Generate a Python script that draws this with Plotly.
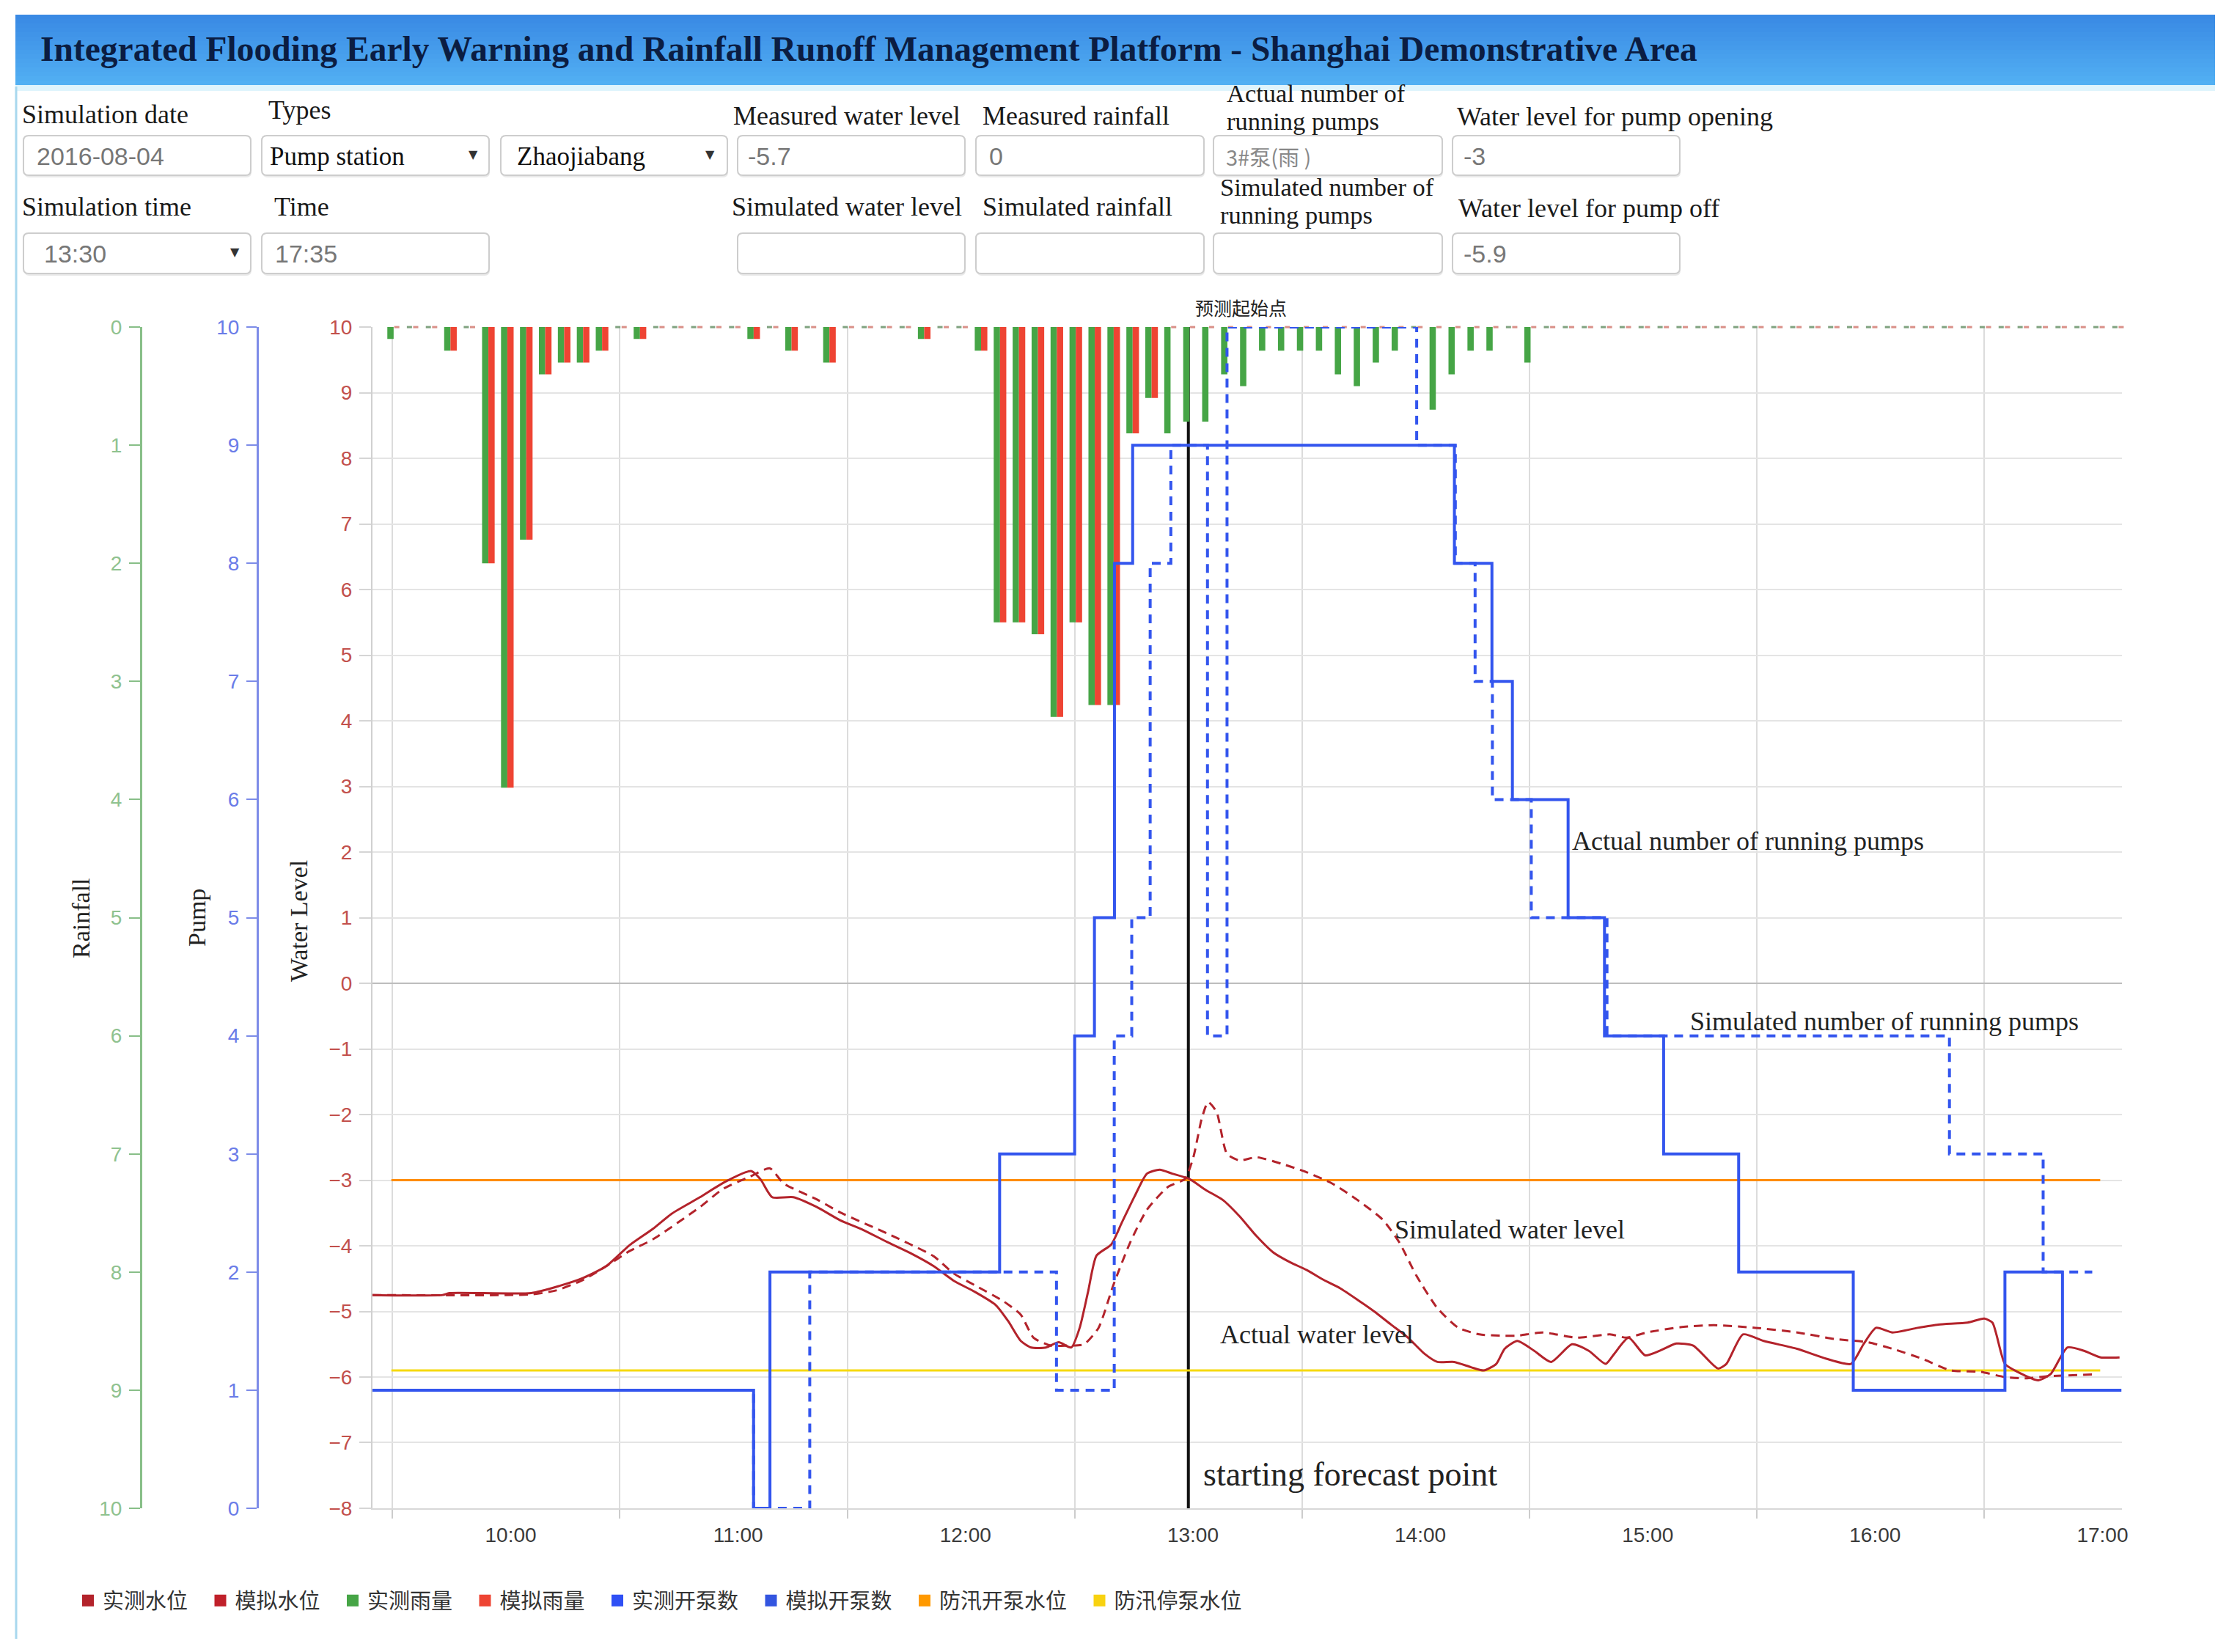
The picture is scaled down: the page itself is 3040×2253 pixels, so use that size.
import plotly.graph_objects as go

W, H = 3040, 2253

# ---------------- data ----------------
# Rainfall: one value per 5-minute slot, first slot at 09:29
rain_start_h = 9 + 29.1 / 60
rain_step_h = 5 / 60
rain_measured = [0.1, 0, 0, 0.2, 0, 2.0, 3.9, 1.8, 0.4, 0.3, 0.3, 0.2, 0, 0.1, 0, 0, 0, 0, 0, 0.1,
                 0, 0.2, 0, 0.3, 0, 0, 0, 0, 0.1, 0, 0, 0.2, 2.5, 2.5, 2.6, 3.3, 2.5, 3.2, 3.2, 0.9,
                 0.6, 0.9, 0.8, 0.8, 0.4, 0.5, 0.2, 0.2, 0.2, 0.2, 0.4, 0.5, 0.3, 0.2, 0, 0.7, 0.4, 0.2, 0.2, 0,
                 0.3, 0, 0, 0, 0, 0, 0, 0, 0, 0, 0, 0, 0, 0, 0, 0, 0, 0, 0, 0,
                 0, 0, 0, 0, 0, 0, 0, 0, 0, 0, 0, 0]
rain_simulated = [0, 0, 0, 0.2, 0, 2.0, 3.9, 1.8, 0.4, 0.3, 0.3, 0.2, 0, 0.1, 0, 0, 0, 0, 0, 0.1,
                  0, 0.2, 0, 0.3, 0, 0, 0, 0, 0.1, 0, 0, 0.2, 2.5, 2.5, 2.6, 3.3, 2.5, 3.2, 3.2, 0.9,
                  0.6, 0, 0, 0, 0, 0, 0, 0, 0, 0, 0, 0, 0, 0, 0, 0, 0, 0, 0, 0,
                  0, 0, 0, 0, 0, 0, 0, 0, 0, 0, 0, 0, 0, 0, 0, 0, 0, 0, 0, 0,
                  0, 0, 0, 0, 0, 0, 0, 0, 0, 0, 0, 0]

# Water level (time in hours)
wl_actual_t = [9.392, 9.70, 9.73, 10.09, 10.215, 10.318, 10.42, 10.523, 10.626, 10.708, 10.832, 10.935,
               11.057, 11.099, 11.15, 11.243, 11.346, 11.448, 11.551, 11.654, 11.757, 11.86, 11.947,
               12.04, 12.132, 12.188, 12.243, 12.289, 12.354, 12.41, 12.465, 12.502, 12.539, 12.576,
               12.641, 12.687, 12.743, 12.798, 12.854, 12.909, 12.983, 13.057, 13.131, 13.205, 13.279,
               13.353, 13.427, 13.501, 13.575, 13.649, 13.723, 13.797, 13.871, 13.946, 14.02, 14.075,
               14.149, 14.223, 14.279, 14.334, 14.371, 14.427, 14.501, 14.575, 14.667, 14.741, 14.815,
               14.852, 14.916, 14.989, 15.053, 15.126, 15.2, 15.309, 15.346, 15.419, 15.51, 15.657,
               15.785, 15.894, 15.949, 16.004, 16.077, 16.187, 16.279, 16.407, 16.48, 16.516, 16.571,
               16.626, 16.718, 16.773, 16.846, 16.919, 16.992, 17.075]
wl_actual = [-4.75, -4.75, -4.72, -4.72, -4.61, -4.49, -4.31, -3.99, -3.74, -3.51, -3.26, -3.04,
             -2.86, -2.99, -3.26, -3.26, -3.41, -3.61, -3.76, -3.94, -4.11, -4.31, -4.53,
             -4.70, -4.90, -5.15, -5.45, -5.55, -5.55, -5.47, -5.55, -5.25, -4.70, -4.15,
             -3.98, -3.65, -3.25, -2.90, -2.84, -2.90, -2.98, -3.15, -3.30, -3.55, -3.85,
             -4.10, -4.25, -4.37, -4.52, -4.65, -4.82, -5.00, -5.20, -5.40, -5.65, -5.77,
             -5.77, -5.85, -5.90, -5.80, -5.57, -5.45, -5.60, -5.77, -5.50, -5.60, -5.80,
             -5.65, -5.40, -5.67, -5.60, -5.49, -5.52, -5.87, -5.80, -5.35, -5.45, -5.57,
             -5.72, -5.80, -5.50, -5.25, -5.32, -5.25, -5.20, -5.17, -5.11, -5.17, -5.80,
             -5.92, -6.05, -5.95, -5.55, -5.60, -5.70, -5.70]
wl_sim_t = [9.392, 10.09, 10.2, 10.318, 10.42, 10.523, 10.626, 10.832, 10.935, 11.05, 11.14, 11.2,
            11.35, 11.448, 11.654, 11.86, 11.947, 12.04, 12.169, 12.243, 12.299, 12.373, 12.447,
            12.521, 12.585, 12.65, 12.724, 12.798, 12.891, 12.965, 13.002, 13.039, 13.067, 13.104,
            13.15, 13.205, 13.279, 13.39, 13.501, 13.612, 13.723, 13.834, 13.908, 13.982, 14.075,
            14.168, 14.26, 14.353, 14.427, 14.538, 14.686, 14.834, 14.907, 14.998, 15.144, 15.291,
            15.474, 15.657, 15.821, 15.968, 16.077, 16.206, 16.334, 16.462, 16.571, 16.663, 16.754,
            16.956]
wl_sim = [-4.75, -4.74, -4.68, -4.52, -4.31, -4.08, -3.90, -3.41, -3.13, -2.95, -2.82, -3.05,
          -3.30, -3.49, -3.81, -4.16, -4.42, -4.60, -4.85, -5.05, -5.40, -5.52, -5.52,
          -5.50, -5.25, -4.60, -3.95, -3.45, -3.10, -2.98, -2.65, -2.06, -1.81, -1.96,
          -2.60, -2.70, -2.65, -2.75, -2.88, -3.05, -3.30, -3.60, -3.95, -4.45, -4.95,
          -5.25, -5.35, -5.37, -5.37, -5.32, -5.40, -5.35, -5.40, -5.32, -5.24, -5.21,
          -5.25, -5.32, -5.42, -5.47, -5.57, -5.72, -5.90, -5.92, -6.00, -6.02, -5.99,
          -5.96]

# Number of running pumps (step changes: time -> new value)
pump_actual_t = [9.392, 11.068, 11.14, 12.15, 12.48, 12.567, 12.655, 12.735, 14.15, 14.315, 14.405,
                 14.65, 14.81, 15.07, 15.40, 15.904, 16.571, 16.824, 17.084]
pump_actual = [1, 0, 2, 3, 4, 5, 8, 9, 8, 7, 6, 5, 4, 3, 2, 1, 2, 1, 1]
pump_sim_t = [9.392, 11.068, 11.315, 12.40, 12.654, 12.731, 12.812, 12.903, 13.064, 13.15, 13.984,
              14.154, 14.241, 14.317, 14.488, 14.821, 16.327, 16.739, 16.955]
pump_sim = [1, 0, 2, 1, 4, 5, 8, 9, 4, 10, 9, 8, 7, 6, 5, 4, 3, 2, 2]

# Flood-control thresholds
threshold_t = [9.475, 16.99]
pump_open_level = -3.0
pump_off_level = -5.9
forecast_t = 12.98

hour_ticks = [10, 11, 12, 13, 14, 15, 16, 17]
hour_labels = ["10:00", "11:00", "12:00", "13:00", "14:00", "15:00", "16:00", "17:00"]
grid_hours = [9.48, 10.48, 11.48, 12.48, 13.48, 14.48, 15.48, 16.48]

legend_names = ["实测水位", "模拟水位", "实测雨量", "模拟雨量", "实测开泵数", "模拟开泵数", "防汛开泵水位", "防汛停泵水位"]

# ---------------- styles ----------------
C_WL = "#b3232b"
C_GREEN = "#46a546"
C_RED = "#ee4433"
C_BLUE = "#3355ee"
C_ORANGE = "#ff8c00"
C_YELLOW = "#f6d90f"
legend_colors = ["#b3232b", "#c0202a", "#46a546", "#ee4433", "#2f50f5", "#3355e0", "#ff9900", "#f8d210"]

SERIF = "Liberation Serif"
SANS = "Liberation Sans"
CJK = "Noto Sans CJK SC"


def X(p):
    return p / W


def Y(p):
    return 1 - p / H


rain_t = [rain_start_h + k * rain_step_h for k in range(len(rain_measured))]
bw = 0.0277

fig = go.Figure()

# forecast start line (drawn first so the bars sit on top)
fig.add_trace(go.Scatter(x=[forecast_t, forecast_t], y=[-8, 10], mode="lines",
                         line=dict(color="#111111", width=4), showlegend=False, hoverinfo="skip"))
# thresholds
fig.add_trace(go.Scatter(x=threshold_t, y=[pump_open_level] * 2, mode="lines",
                         line=dict(color=C_ORANGE, width=3), showlegend=False))
fig.add_trace(go.Scatter(x=threshold_t, y=[pump_off_level] * 2, mode="lines",
                         line=dict(color=C_YELLOW, width=3), showlegend=False))
# water levels
fig.add_trace(go.Scatter(x=wl_sim_t, y=wl_sim, mode="lines",
                         line=dict(color=C_WL, width=3, dash="12px,8px", shape="spline", smoothing=0.6),
                         showlegend=False))
fig.add_trace(go.Scatter(x=wl_actual_t, y=wl_actual, mode="lines",
                         line=dict(color=C_WL, width=3, shape="spline", smoothing=0.6),
                         showlegend=False))

# rainfall bars (rain axis, reversed)
fig.add_trace(go.Bar(x=rain_t, y=rain_measured, width=bw, offset=-bw, marker=dict(color=C_GREEN, line=dict(width=0)),
                     yaxis="y2", showlegend=False))
fig.add_trace(go.Bar(x=rain_t, y=rain_simulated, width=bw, offset=0, marker=dict(color=C_RED, line=dict(width=0)),
                     yaxis="y2", showlegend=False))
# zero-rain marks along the top
zg = [t - bw / 2 for t, v in zip(rain_t, rain_measured) if v == 0]
zr = [t + bw / 2 for t, v in zip(rain_t, rain_simulated) if v == 0]
fig.add_trace(go.Scatter(x=zg, y=[0] * len(zg), mode="markers", yaxis="y2", cliponaxis=False,
                         marker=dict(symbol="line-ew", size=5, line=dict(color="#7fa27f", width=3)),
                         showlegend=False, hoverinfo="skip"))
fig.add_trace(go.Scatter(x=zr, y=[0] * len(zr), mode="markers", yaxis="y2", cliponaxis=False,
                         marker=dict(symbol="line-ew", size=5, line=dict(color="#d99088", width=3)),
                         showlegend=False, hoverinfo="skip"))

# pumps
fig.add_trace(go.Scatter(x=pump_sim_t, y=pump_sim, mode="lines", yaxis="y3",
                         line=dict(color=C_BLUE, width=4, dash="12px,9px", shape="hv"), showlegend=False))
fig.add_trace(go.Scatter(x=pump_actual_t, y=pump_actual, mode="lines", yaxis="y3",
                         line=dict(color=C_BLUE, width=4, shape="hv"), showlegend=False))

# legend entries (square swatches as in the original)
for name, col in zip(legend_names, legend_colors):
    fig.add_trace(go.Scatter(x=[None], y=[None], mode="markers", name=name + "\u00a0\u00a0\u00a0",
                             marker=dict(symbol="square", size=16, color=col)))

# ---------------- header / form ----------------
shapes = []
top, bot = 20, 116
n = 16
c0, c1 = (58, 138, 228), (82, 176, 243)
for i in range(n):
    f = i / (n - 1)
    col = "rgb(%d,%d,%d)" % tuple(int(a + (b - a) * f) for a, b in zip(c0, c1))
    y0 = top + (bot - top) * i / n
    y1 = top + (bot - top) * (i + 1) / n + 0.8
    shapes.append(dict(type="rect", xref="paper", yref="paper", x0=X(21), x1=X(3021), y0=Y(y0), y1=Y(y1),
                       line=dict(width=0), fillcolor=col, layer="below"))
shapes.append(dict(type="rect", xref="paper", yref="paper", x0=X(21), x1=X(3021), y0=Y(116), y1=Y(124),
                   line=dict(width=0), fillcolor="#dff4fc", layer="below"))
shapes.append(dict(type="line", xref="paper", yref="paper", x0=X(22), x1=X(22), y0=Y(118), y1=Y(2235),
                   line=dict(color="#a8d8ee", width=3), layer="below"))


def rbox(x0, y0, x1, y1, r=7):
    def P(a, b):
        return f"{X(a):.6f},{Y(b):.6f}"
    path = (f"M {P(x0 + r, y0)} L {P(x1 - r, y0)} Q {P(x1, y0)} {P(x1, y0 + r)} "
            f"L {P(x1, y1 - r)} Q {P(x1, y1)} {P(x1 - r, y1)} L {P(x0 + r, y1)} "
            f"Q {P(x0, y1)} {P(x0, y1 - r)} L {P(x0, y0 + r)} Q {P(x0, y0)} {P(x0 + r, y0)} Z")
    return path


row1 = (185, 239)
row2 = (318, 373)
boxes_r1 = [(32, 342), (357, 667), (683, 992), (1006, 1316), (1331, 1642), (1655, 1967), (1981, 2291)]
boxes_r2 = [(32, 342), (357, 667), (1006, 1316), (1331, 1642), (1655, 1967), (1981, 2291)]
for (yy0, yy1), bl in ((row1, boxes_r1), (row2, boxes_r2)):
    for bx0, bx1 in bl:
        shapes.append(dict(type="path", xref="paper", yref="paper", path=rbox(bx0 + 1, yy0 + 3, bx1 + 1, yy1 + 3),
                           line=dict(width=0), fillcolor="#e9e9e9", layer="below"))
        shapes.append(dict(type="path", xref="paper", yref="paper", path=rbox(bx0, yy0, bx1, yy1),
                           line=dict(color="#cdcdcd", width=2), fillcolor="white", layer="below"))

annotations = []


def txt(s, x, y, size, color="#1a1a1a", family=SERIF, xanchor="left", **kw):
    annotations.append(dict(text=s, x=X(x), y=Y(y), xref="paper", yref="paper", xanchor=xanchor,
                            yanchor="middle", showarrow=False, font=dict(size=size, color=color, family=family), **kw))


txt("<b>Integrated Flooding Early Warning and Rainfall Runoff Management Platform - Shanghai Demonstrative Area</b>",
    53, 67, 47.5, color="#0b1d42")

form_labels = [("Simulation date", 28, 156), ("Types", 364, 150), ("Measured water level", 998, 158),
               ("Measured rainfall", 1338, 158), ("Water level for pump opening", 1985, 159),
               ("Simulation time", 28, 282), ("Time", 372, 282), ("Simulated water level", 996, 282),
               ("Simulated rainfall", 1338, 282), ("Water level for pump off", 1987, 284)]
for s, x, y in form_labels:
    txt(s, x, y, 36)
# two-line labels, squeezed as in the original
form_labels_2 = [("Actual number of", 1671, 127), ("running pumps", 1671, 165),
                 ("Simulated number of", 1662, 255), ("running pumps", 1662, 293)]
for s, x, y in form_labels_2:
    txt(s, x, y, 34.5)

form_values = [("2016-08-04", 48, 213, SANS, "#777777", 34), ("Pump station", 366, 213, SERIF, "#111111", 35),
               ("Zhaojiabang", 703, 213, SERIF, "#111111", 35), ("-5.7", 1018, 213, SANS, "#777777", 34),
               ("0", 1347, 213, SANS, "#777777", 34), ("3#泵(雨 )", 1670, 213, CJK, "#888888", 29),
               ("-3", 1994, 213, SANS, "#777777", 34),
               ("13:30", 58, 346, SANS, "#777777", 34), ("17:35", 373, 346, SANS, "#777777", 34),
               ("-5.9", 1994, 346, SANS, "#777777", 34)]
for s, x, y, fam, col, sz in form_values:
    txt(s, x, y, sz, color=col, family=fam)
for x, y in [(645, 210), (969, 210), (320, 343)]:
    txt("▼", x, y, 16, color="#333333", family="DejaVu Sans", xanchor="center")

# axis titles
txt("Rainfall", 110, 1252, 34, color="#222222", xanchor="center", textangle=-90)
txt("Pump", 268, 1252, 34, color="#222222", xanchor="center", textangle=-90)
txt("Water Level", 408, 1256, 34, color="#222222", xanchor="center", textangle=-90)

# in-plot labels (data coordinates)
plot_labels = [("Actual number of running pumps", 14.66, 2.17), ("Simulated number of running pumps", 15.18, -0.58),
               ("Simulated water level", 13.88, -3.75), ("Actual water level", 13.112, -5.35)]
for s, xx, yy in plot_labels:
    annotations.append(dict(text=s, x=xx, y=yy, xref="x", yref="y", xanchor="left", yanchor="middle",
                            showarrow=False, font=dict(size=36, color="#222222", family=SERIF)))
annotations.append(dict(text="starting forecast point", x=forecast_t + 0.06, y=-7.48, xref="x", yref="y",
                        xanchor="left", yanchor="middle", showarrow=False,
                        font=dict(size=46, color="#222222", family=SERIF)))
annotations.append(dict(text="预测起始点", x=13.21, y=Y(419), xref="x", yref="paper", xanchor="center",
                        yanchor="middle", showarrow=False, font=dict(size=25, color="#222222", family=CJK)))

fig.update_layout(
    template="none",
    width=W, height=H, autosize=False,
    margin=dict(l=0, r=0, t=0, b=0, pad=0, autoexpand=False),
    paper_bgcolor="white", plot_bgcolor="white",
    barmode="overlay",
    showlegend=True,
    legend=dict(orientation="h", x=X(100), y=Y(2183), xanchor="left", yanchor="middle",
                font=dict(family=CJK, size=29, color="#333333"), bgcolor="rgba(0,0,0,0)",
                itemwidth=30, traceorder="normal", borderwidth=0),
    xaxis=dict(domain=[X(508), X(2893.5)], range=[9.392, 17.084], anchor="y", automargin=False,
               tickmode="array", tickvals=hour_ticks, ticktext=hour_labels, ticks="",
               showgrid=False, zeroline=False, showline=True, linecolor="#d8d8d8", linewidth=2,
               tickfont=dict(family=SANS, size=28, color="#3a3a3a"), ticklabelstandoff=10,
               minor=dict(tickmode="array", tickvals=grid_hours, showgrid=True, gridcolor="#dcdcdc",
                          gridwidth=2, ticks="outside", ticklen=12, tickcolor="#cccccc", tickwidth=2)),
    yaxis=dict(domain=[0.087, 0.802], range=[-8, 10], tickmode="linear", tick0=0, dtick=1, automargin=False,
               showgrid=True, gridcolor="#e4e4e4", gridwidth=2,
               zeroline=True, zerolinecolor="#bdbdbd", zerolinewidth=2,
               ticks="outside", ticklen=16, tickcolor="#d5d5d5", tickwidth=2,
               showline=True, linecolor="#d0d0d0", linewidth=2,
               tickfont=dict(family=SANS, size=28, color="#c2504c"), ticklabelstandoff=4),
    yaxis2=dict(overlaying="y", anchor="free", position=X(192), side="left", range=[10, 0], automargin=False,
                tickmode="linear", tick0=0, dtick=1, showgrid=False, zeroline=False,
                showline=True, linecolor="#88bf88", linewidth=3,
                ticks="outside", ticklen=15, tickcolor="#88bf88", tickwidth=2,
                tickfont=dict(family=SANS, size=28, color="#8fc28f"), ticklabelstandoff=4),
    yaxis3=dict(overlaying="y", anchor="free", position=X(351), side="left", range=[0, 10], automargin=False,
                tickmode="linear", tick0=0, dtick=1, showgrid=False, zeroline=False,
                showline=True, linecolor="#7d8ce8", linewidth=3,
                ticks="outside", ticklen=14, tickcolor="#7d8ce8", tickwidth=2,
                tickfont=dict(family=SANS, size=28, color="#6a7ce8"), ticklabelstandoff=4),
    shapes=shapes,
    annotations=annotations,
)

fig.write_html("out.html", config={"displayModeBar": False},
               post_script="document.body.style.margin='0';document.body.style.overflow='hidden';")
